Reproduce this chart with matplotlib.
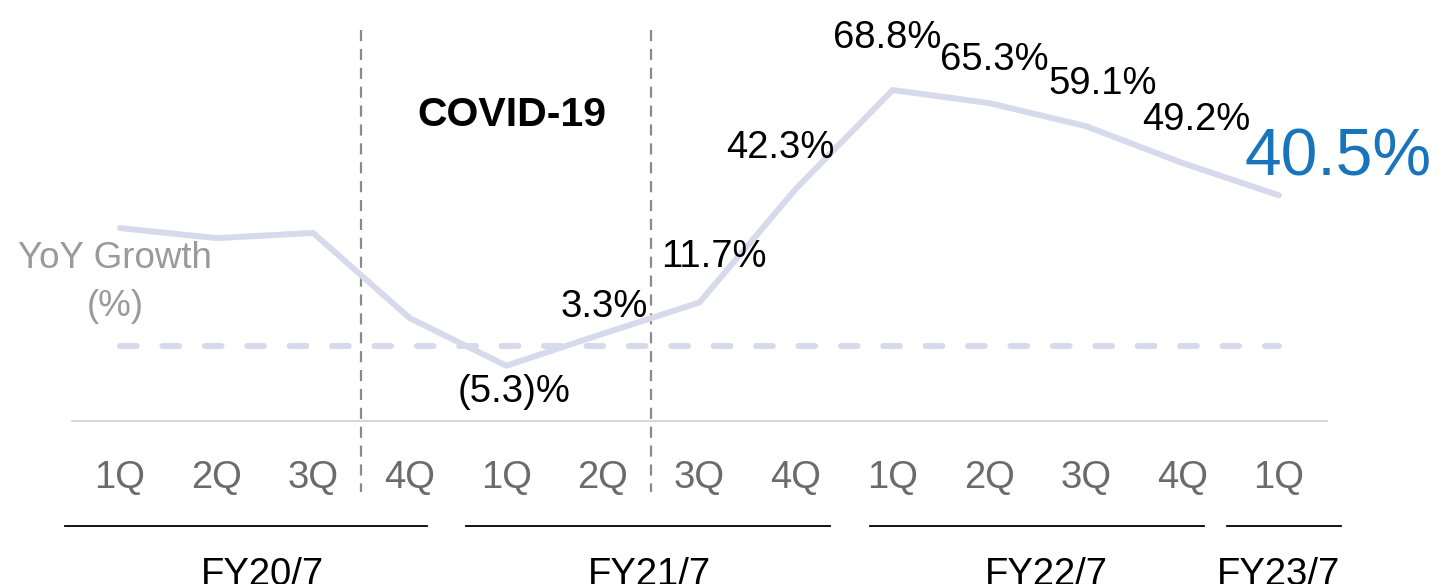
import matplotlib
matplotlib.use("Agg")
import matplotlib.pyplot as plt

plt.rcParams['font.family'] = ['Liberation Sans', 'DejaVu Sans']

quarters = ["1Q", "2Q", "3Q", "4Q", "1Q", "2Q", "3Q", "4Q", "1Q", "2Q", "3Q", "4Q", "1Q"]
growth = [31.7, 29.0, 30.4, 7.5, -5.3, 3.3, 11.7, 42.3, 68.8, 65.3, 59.1, 49.2, 40.5]
labels = [None, None, None, None, "(5.3)%", "3.3%", "11.7%", "42.3%", "68.8%", "65.3%", "59.1%", "49.2%", "40.5%"]
label_offsets_px = [None, None, None, None, (8, -26), (1, 27), (14, 45), (-16, 41), (-5, 52), (5, 43), (17, 42), (14, 43), (59, 37)]
fiscal_years = ["FY20/7", "FY21/7", "FY22/7", "FY23/7"]
fy_spans = [(-0.57, 3.18), (3.58, 7.35), (7.77, 11.22), (11.46, 12.64)]
fy_centers = [1.47, 5.48, 9.59, 12.0]
covid_bounds = [2.5, 5.5]

W, H = 1439, 584
fig = plt.figure(figsize=(W / 100, H / 100), dpi=100)
ax = fig.add_axes([0, 0, 1, 1])
ax.axis('off')

X0, DX = 120, 96.58      # pixel of index 0, pixel spacing
Y0, SY = 346, 3.72       # pixel of 0%, pixels per %
ax.set_xlim(-X0 / DX, (W - X0) / DX)
ax.set_ylim(-(H - Y0) / SY, Y0 / SY)

def yd(py):
    return (Y0 - py) / SY

x = list(range(len(growth)))
line_col = "#d6daea"

# zero dashed line
ax.plot([x[0], x[-1]], [0, 0], color=line_col, lw=4.3, dashes=(2.8, 4.3),
        dash_capstyle='round', zorder=2)
# growth line
ax.plot(x, growth, color=line_col, lw=4.3, solid_capstyle='round',
        solid_joinstyle='round', zorder=3)

# baseline
ax.plot([-0.5, 12.5], [yd(421), yd(421)], color="#d0d0d0", lw=1.2, zorder=1)

# covid boundary lines
for b in covid_bounds:
    ax.plot([b, b], [yd(30), yd(492)], color="#8a8a8a", lw=1.6,
            dashes=(5, 3.5), zorder=1)

# COVID label
ax.text(4.06, yd(115), "COVID-19", fontsize=29.5, fontweight='bold',
        ha='center', va='center', color='black')

# YoY growth label
ax.text(-0.05, yd(258), "YoY Growth", fontsize=26.5, color="#9a9a9a",
        ha='center', va='center')
ax.text(-0.05, yd(307), "(%)", fontsize=26.5, color="#9a9a9a",
        ha='center', va='center')

# value labels
for i, (lab, off) in enumerate(zip(labels, label_offsets_px)):
    if lab is None:
        continue
    last = i == len(growth) - 1
    ax.annotate(lab, xy=(x[i], growth[i]), xytext=off, textcoords='offset pixels',
                ha='center', va='center',
                fontsize=47.5 if last else 27.5,
                color="#1a74bb" if last else "black")

# quarter labels
for i, q in enumerate(quarters):
    ax.text(x[i], yd(478), q, fontsize=27.5, color="#6b6b6b",
            ha='center', va='center')

# fiscal year underlines and labels
for fy, (a, b), c in zip(fiscal_years, fy_spans, fy_centers):
    ax.plot([a, b], [yd(526), yd(526)], color='black', lw=1.3)
    ax.text(c, yd(575), fy, fontsize=27.5, color='black', ha='center', va='center')

fig.savefig("out.png", dpi=100)
